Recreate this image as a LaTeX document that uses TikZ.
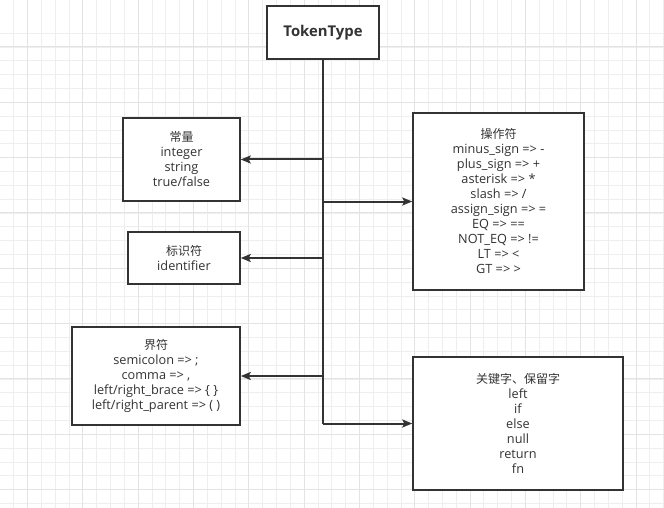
\documentclass[tikz,border=0pt]{standalone}
\usepackage{fontspec}
\setmainfont{Open Sans}[Scale=1.06]
\newfontfamily\cjk{Noto Sans CJK SC}
\usetikzlibrary{arrows.meta,shadows}
\definecolor{ink}{HTML}{333333}
\definecolor{gridminor}{HTML}{EEEEEE}
\definecolor{gridmajor}{HTML}{E3E3E3}
\tikzstyle{block} = [align=center,draw=ink,line width=1.5pt,rectangle,fill=white,text=ink,font=\fontsize{12}{15}\selectfont,drop shadow={shadow xshift=1pt,shadow yshift=-1pt,opacity=0.35}]
\tikzstyle{title} = [block,font=\fontsize{14}{16}\selectfont\bfseries,minimum width=112,minimum height=53]
\tikzstyle{line} = [draw=ink,line width=2pt]
\tikzstyle{arr} = [line,-{Stealth[length=10pt,width=8pt,inset=2pt]}]

\begin{document}
\begin{tikzpicture}[x=1pt,y=-1pt]
				\useasboundingbox (0,0) rectangle (664,508);
				% grid
				\foreach \i in {-1,...,48} \draw [gridminor,line width=0.8pt] (27.5+13.83*\i,0) -- (27.5+13.83*\i,508);
				\foreach \i in {-1,...,36} \draw [gridminor,line width=0.8pt] (0,47+13.83*\i) -- (664,47+13.83*\i);
				\foreach \i in {0,...,11} \draw [gridmajor,line width=1pt] (27.5+55.32*\i,0) -- (27.5+55.32*\i,508);
				\foreach \i in {-1,...,9} \draw [gridmajor,line width=1pt] (0,47+55.32*\i) -- (664,47+55.32*\i);
				% nodes
				\node (tt) [title] at (323,32.5) {TokenType};
				\node (const) [block,minimum width=117,minimum height=83] at (181.5,159.5) {{\cjk 常量}\\integer\\string\\true/false};
				\node (ident) [block,minimum width=112,minimum height=52] at (184,258) {{\cjk 标识符}\\identifier};
				\node (delim) [block,minimum width=168,minimum height=98] at (156,376) {{\cjk 界符}\\semicolon => ;\\comma => ,\\left/right\_brace => \{ \}\\left/right\_parent => ( )};
				\node (op) [block,minimum width=171,minimum height=177] at (498.5,201.5) {{\cjk 操作符}\\minus\_sign => -\\plus\_sign => +\\asterisk => *\\slash => /\\assign\_sign => =\\EQ => ==\\NOT\_EQ => !=\\LT => <\\GT => >};
				\node (kw) [block,minimum width=210,minimum height=133] at (518,423.5) {{\cjk 关键字、保留字}\\left\\if\\else\\null\\return\\fn};
				% connectors
				\draw [line,line width=2.5pt] (tt) -- (tt |- kw);
				\draw [arr] (tt |- kw) -- (kw);
				\draw [arr] (tt |- const) -- (const);
				\draw [arr] (tt |- ident) -- (ident);
				\draw [arr] (tt |- delim) -- (delim);
				\draw [arr] (tt |- op) -- (op);
			\end{tikzpicture}
\end{document}
